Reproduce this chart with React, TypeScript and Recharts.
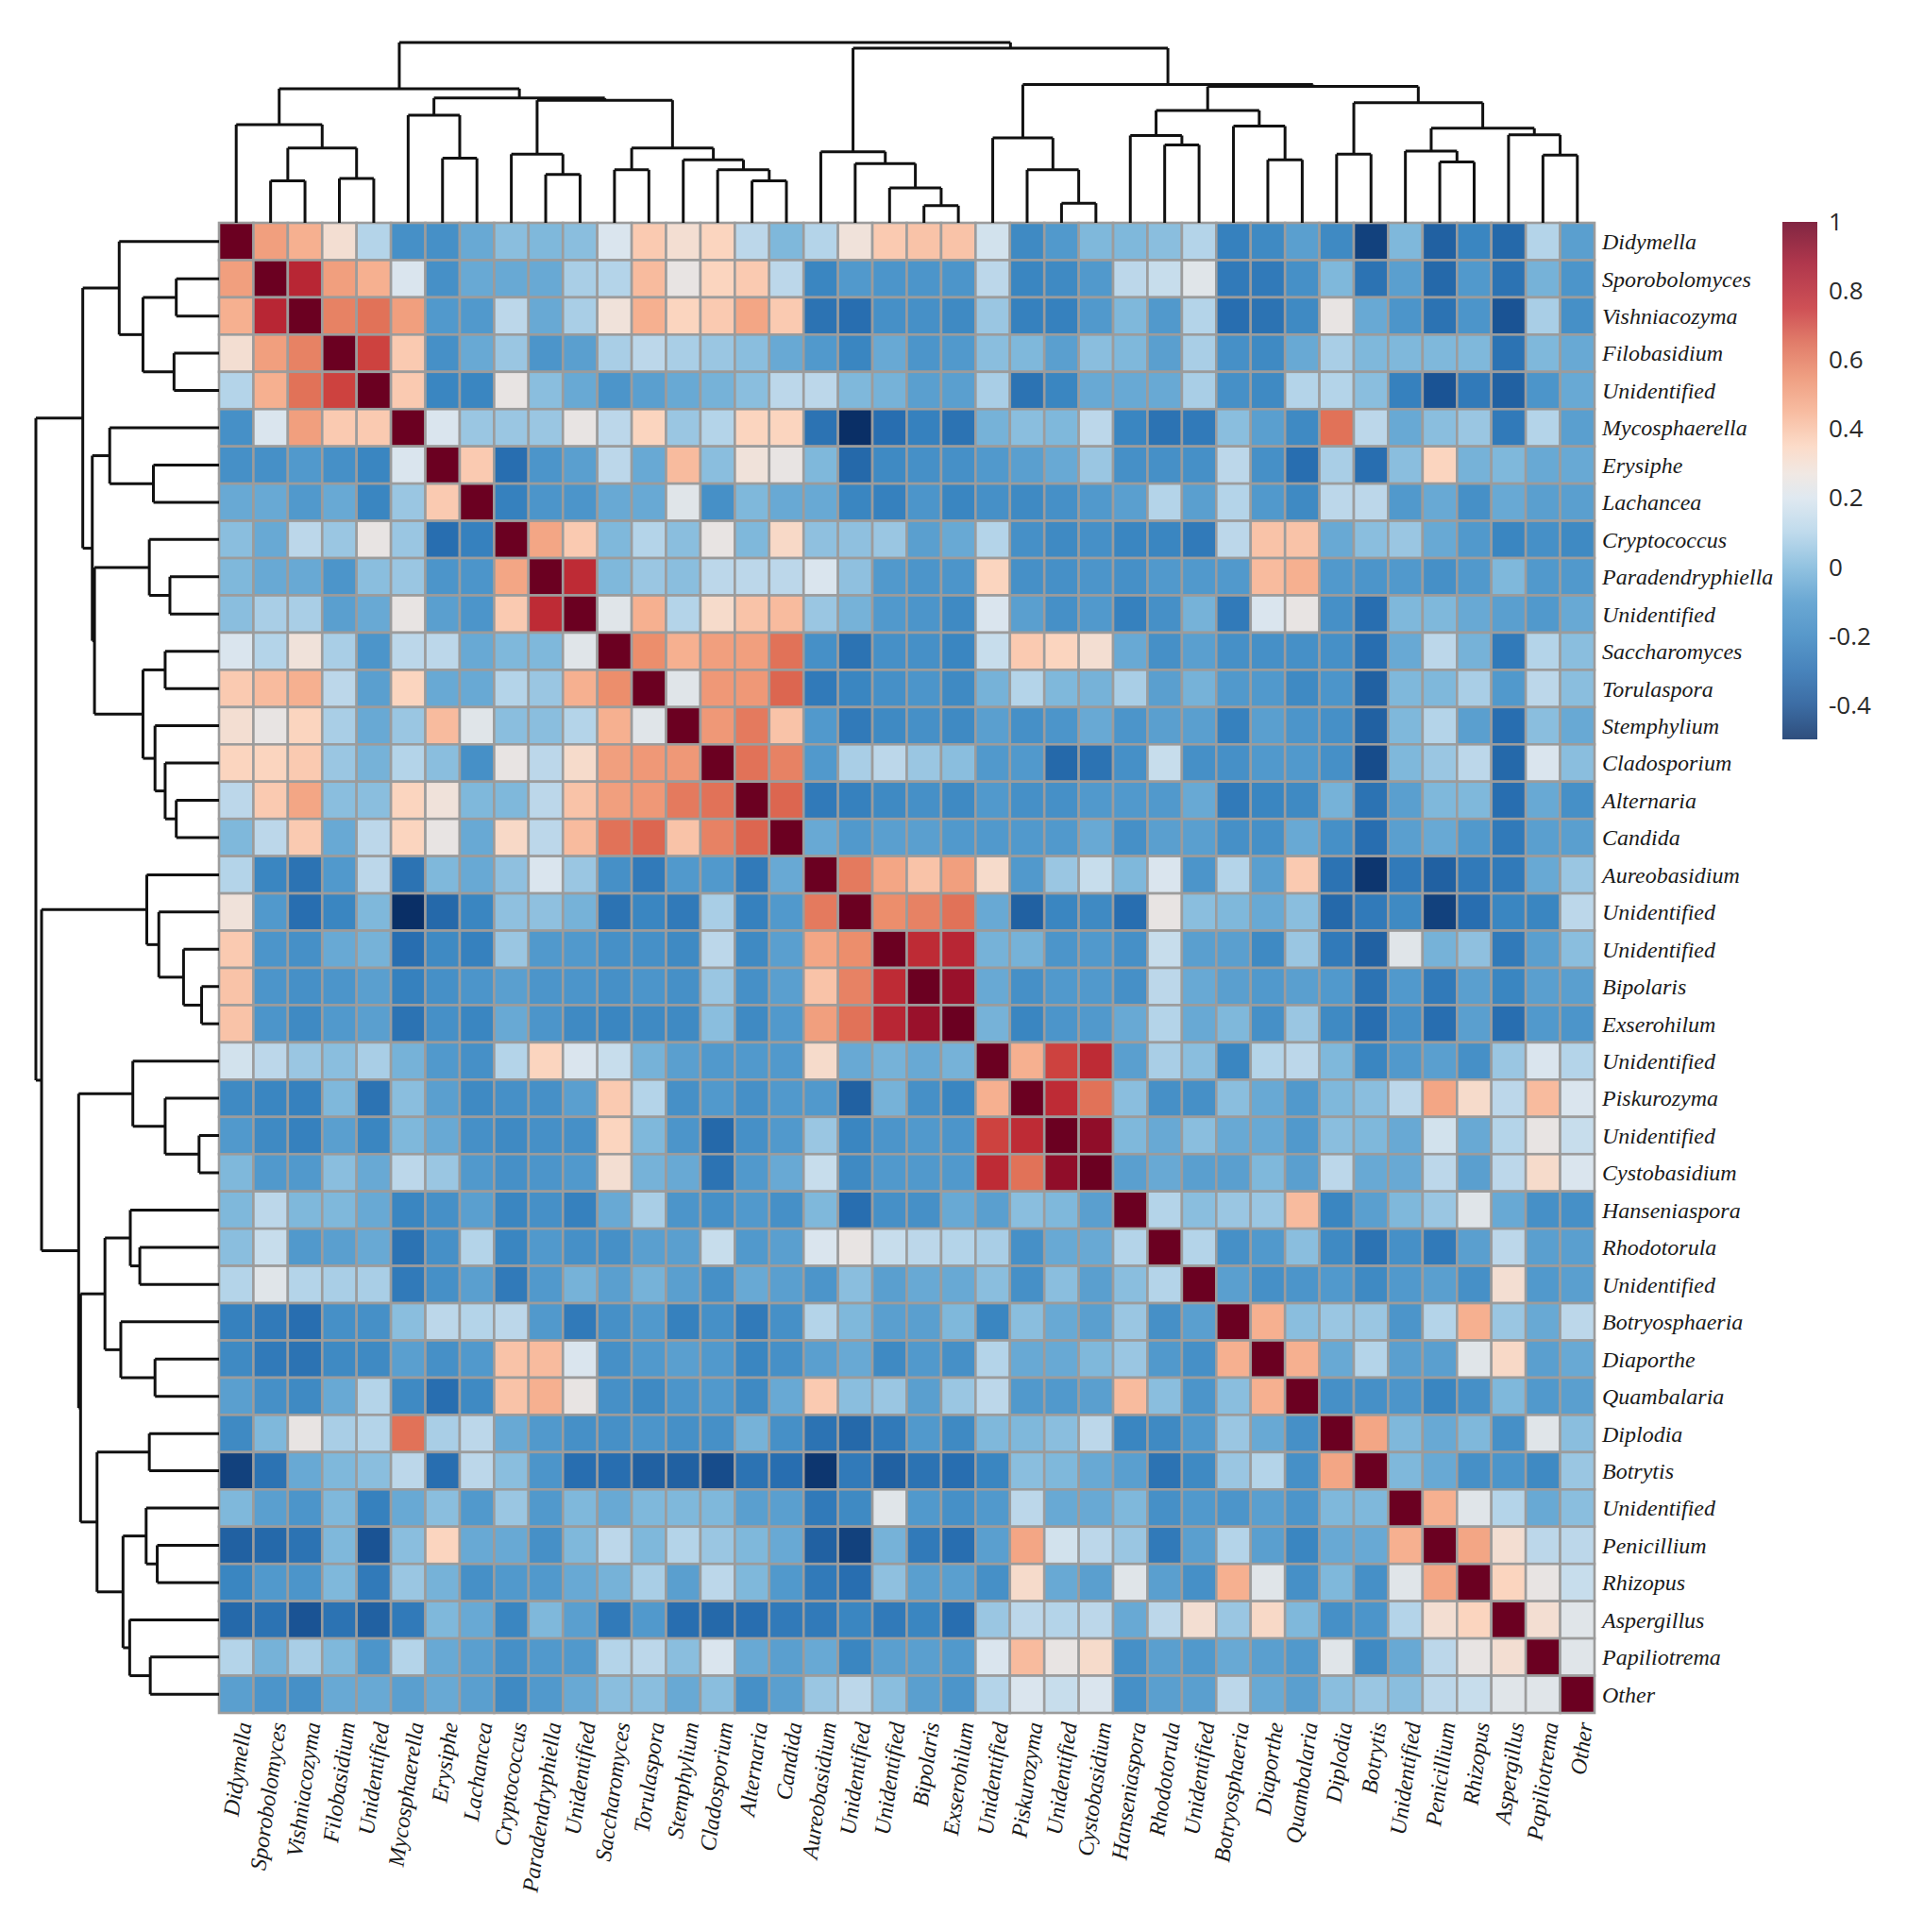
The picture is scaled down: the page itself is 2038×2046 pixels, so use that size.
import { ReferenceArea, ReferenceLine, Scatter, ScatterChart, XAxis, YAxis } from "recharts";

// taxa in clustered order (rows top->bottom, columns left->right)
const taxa = [
  "Didymella", "Sporobolomyces", "Vishniacozyma", "Filobasidium", "Unidentified",
  "Mycosphaerella", "Erysiphe", "Lachancea", "Cryptococcus", "Paradendryphiella",
  "Unidentified", "Saccharomyces", "Torulaspora", "Stemphylium", "Cladosporium",
  "Alternaria", "Candida", "Aureobasidium", "Unidentified", "Unidentified",
  "Bipolaris", "Exserohilum", "Unidentified", "Piskurozyma", "Unidentified",
  "Cystobasidium", "Hanseniaspora", "Rhodotorula", "Unidentified", "Botryosphaeria",
  "Diaporthe", "Quambalaria", "Diplodia", "Botrytis", "Unidentified",
  "Penicillium", "Rhizopus", "Aspergillus", "Papiliotrema", "Other",
];

// lower triangle of the correlation matrix, row i holds columns 0..i-1
const lowerRows: number[][] = [
  [],
  [0.5],
  [0.45, 0.8],
  [0.3, 0.5, 0.58],
  [0.1, 0.45, 0.62, 0.72],
  [-0.15, 0.2, 0.5, 0.38, 0.38],
  [-0.15, -0.15, -0.1, -0.15, -0.2, 0.2],
  [-0.05, -0.05, -0.1, -0.05, -0.2, 0.05, 0.38],
  [0.02, -0.05, 0.12, 0.05, 0.25, 0.05, -0.3, -0.22],
  [0, -0.05, -0.05, -0.12, 0.02, 0.05, -0.12, -0.12, 0.48],
  [0.02, 0.08, 0.08, -0.08, -0.05, 0.25, -0.08, -0.12, 0.38, 0.78],
  [0.2, 0.1, 0.28, 0.08, -0.12, 0.12, 0.12, -0.05, 0, 0, 0.22],
  [0.38, 0.42, 0.45, 0.12, -0.08, 0.35, -0.05, -0.05, 0.1, 0.05, 0.45, 0.55],
  [0.3, 0.25, 0.35, 0.08, -0.05, 0.05, 0.42, 0.22, 0.02, 0.02, 0.1, 0.45, 0.22],
  [0.35, 0.35, 0.38, 0.05, -0.02, 0.1, 0.02, -0.15, 0.25, 0.12, 0.32, 0.5, 0.52, 0.52],
  [0.12, 0.38, 0.48, 0.02, 0.02, 0.35, 0.28, 0, 0, 0.12, 0.4, 0.5, 0.52, 0.6, 0.62],
  [0, 0.12, 0.38, -0.05, 0.12, 0.35, 0.25, -0.05, 0.33, 0.12, 0.42, 0.62, 0.65, 0.4, 0.58, 0.65],
  [0.1, -0.2, -0.28, -0.1, 0.12, -0.28, 0, -0.05, 0.03, 0.2, 0.05, -0.15, -0.25, -0.1, -0.1, -0.25, -0.05],
  [0.28, -0.1, -0.3, -0.2, 0, -0.5, -0.32, -0.2, 0.03, 0.03, -0.02, -0.28, -0.2, -0.25, 0.08, -0.22, -0.1, 0.6],
  [0.38, -0.12, -0.15, -0.05, -0.02, -0.3, -0.18, -0.22, 0.05, -0.1, -0.1, -0.15, -0.15, -0.18, 0.12, -0.18, -0.08, 0.48, 0.55],
  [0.4, -0.12, -0.15, -0.12, -0.08, -0.22, -0.15, -0.12, -0.08, -0.12, -0.12, -0.15, -0.12, -0.15, 0.05, -0.15, -0.08, 0.4, 0.58, 0.78],
  [0.4, -0.12, -0.18, -0.1, -0.08, -0.28, -0.15, -0.2, -0.05, -0.12, -0.18, -0.2, -0.18, -0.18, 0.02, -0.18, -0.1, 0.5, 0.62, 0.8, 0.9],
  [0.18, 0.12, 0.05, 0.02, 0.08, -0.02, -0.1, -0.15, 0.1, 0.35, 0.2, 0.15, -0.02, -0.08, -0.1, -0.1, -0.1, 0.32, -0.05, -0.02, -0.05, -0.02],
  [-0.18, -0.2, -0.22, 0, -0.28, 0.02, -0.08, -0.18, -0.15, -0.15, -0.08, 0.38, 0.1, -0.15, -0.1, -0.15, -0.1, -0.1, -0.35, -0.02, -0.15, -0.2, 0.45],
  [-0.1, -0.18, -0.22, -0.08, -0.2, 0, -0.05, -0.15, -0.18, -0.15, -0.15, 0.35, 0, -0.12, -0.32, -0.15, -0.1, 0.05, -0.2, -0.12, -0.1, -0.12, 0.72, 0.78],
  [0, -0.1, -0.1, 0.02, -0.05, 0.12, 0.05, -0.1, -0.15, -0.12, -0.1, 0.3, -0.02, -0.05, -0.28, -0.1, -0.05, 0.15, -0.18, -0.1, -0.1, -0.1, 0.78, 0.62, 0.92],
  [0, 0.12, 0, 0, -0.05, -0.2, -0.15, -0.08, -0.2, -0.15, -0.22, -0.05, 0.08, -0.12, -0.15, -0.1, -0.15, 0, -0.3, -0.15, -0.15, -0.05, -0.08, 0.02, 0, -0.08],
  [0.02, 0.15, -0.1, -0.08, -0.05, -0.28, -0.15, 0.1, -0.2, -0.1, -0.15, -0.15, -0.08, -0.08, 0.15, -0.1, -0.08, 0.2, 0.25, 0.15, 0.12, 0.1, 0.08, -0.15, -0.05, -0.05, 0.1],
  [0.1, 0.22, 0.1, 0.08, 0.08, -0.25, -0.15, -0.08, -0.25, -0.1, -0.02, -0.08, -0.02, -0.08, -0.15, -0.05, -0.08, -0.12, 0.02, -0.08, -0.05, -0.05, 0.02, -0.15, 0.02, -0.08, 0.02, 0.1],
  [-0.22, -0.25, -0.3, -0.15, -0.15, 0.02, 0.12, 0.1, 0.12, -0.1, -0.25, -0.15, -0.1, -0.22, -0.15, -0.25, -0.15, 0.1, 0, -0.08, -0.08, 0, -0.2, 0.02, -0.05, -0.08, 0.05, -0.15, -0.08],
  [-0.18, -0.25, -0.28, -0.18, -0.18, -0.08, -0.15, -0.1, 0.4, 0.42, 0.2, -0.15, -0.1, -0.08, -0.1, -0.2, -0.15, -0.08, -0.05, -0.18, -0.1, -0.15, 0.1, -0.05, -0.05, 0, 0.05, -0.1, -0.15, 0.45],
  [-0.08, -0.15, -0.18, -0.05, 0.1, -0.18, -0.3, -0.18, 0.4, 0.45, 0.25, -0.15, -0.18, -0.12, -0.1, -0.18, -0.05, 0.38, 0.02, 0.05, -0.08, 0.05, 0.12, -0.1, -0.1, -0.08, 0.42, 0.02, -0.12, 0.02, 0.45],
  [-0.18, 0, 0.25, 0.08, 0.1, 0.62, 0.08, 0.12, -0.05, -0.1, -0.15, -0.15, -0.12, -0.15, -0.15, -0.02, -0.15, -0.28, -0.32, -0.25, -0.1, -0.18, 0, 0, 0.02, 0.12, -0.2, -0.18, -0.1, 0.05, -0.05, -0.15],
  [-0.45, -0.28, -0.05, 0, 0.02, 0.12, -0.3, 0.12, 0.02, -0.12, -0.3, -0.3, -0.35, -0.35, -0.42, -0.28, -0.3, -0.48, -0.25, -0.35, -0.28, -0.3, -0.2, 0.02, 0, -0.05, -0.08, -0.28, -0.18, 0.05, 0.1, -0.15, 0.48],
  [0, -0.08, -0.12, 0, -0.22, -0.05, 0.02, -0.1, 0.05, -0.1, 0, -0.05, 0, 0, 0, -0.08, -0.08, -0.25, -0.18, 0.22, -0.1, -0.15, -0.1, 0.12, -0.05, -0.05, 0, -0.15, -0.1, -0.12, -0.08, -0.12, 0, 0],
  [-0.35, -0.32, -0.28, 0, -0.4, 0.02, 0.35, -0.05, -0.05, -0.15, 0, 0.12, 0, 0.1, 0.05, 0, -0.05, -0.35, -0.45, -0.02, -0.25, -0.3, -0.08, 0.48, 0.18, 0.12, 0.05, -0.25, -0.08, 0.1, -0.08, -0.2, -0.05, -0.05, 0.45],
  [-0.2, -0.1, -0.12, 0, -0.25, 0.05, -0.02, -0.15, -0.1, -0.1, -0.05, -0.02, 0.08, -0.08, 0.12, 0, -0.1, -0.25, -0.3, 0.03, -0.08, -0.08, -0.15, 0.32, -0.05, -0.08, 0.22, -0.08, -0.15, 0.45, 0.22, -0.15, 0, -0.15, 0.22, 0.48],
  [-0.32, -0.28, -0.4, -0.28, -0.35, -0.25, 0, -0.05, -0.2, 0, -0.08, -0.25, -0.1, -0.3, -0.32, -0.3, -0.25, -0.25, -0.2, -0.25, -0.2, -0.3, 0.05, 0.12, 0.1, 0.12, -0.05, 0.12, 0.3, 0.05, 0.33, 0, -0.15, -0.12, 0.1, 0.3, 0.35],
  [0.1, -0.02, 0.08, 0, -0.12, 0.1, -0.05, -0.08, -0.15, -0.1, -0.1, 0.1, 0.12, 0.02, 0.2, -0.05, -0.08, -0.05, -0.2, -0.08, -0.08, -0.1, 0.2, 0.42, 0.25, 0.32, -0.15, -0.08, -0.1, -0.05, -0.08, -0.1, 0.22, -0.18, -0.05, 0.12, 0.25, 0.3],
  [-0.08, -0.12, -0.15, -0.05, -0.05, -0.08, -0.05, -0.08, -0.18, -0.1, -0.05, 0.02, 0.02, -0.05, 0.02, -0.15, -0.08, 0.05, 0.12, 0.02, -0.08, -0.12, 0.1, 0.2, 0.15, 0.2, -0.15, -0.08, -0.08, 0.12, -0.05, -0.08, 0.02, 0.05, 0.02, 0.12, 0.15, 0.22, 0.22],
];

// hierarchical clustering: [child a, child b, merge height]; ids >= 40 are earlier merges
const merges: [number, number, number][] = [
  [1, 2, 135], [3, 4, 142], [40, 41, 240], [0, 42, 315],
  [6, 7, 207], [5, 44, 345], [9, 10, 155], [8, 46, 220],
  [11, 12, 170], [15, 16, 135], [14, 49, 170], [13, 50, 202],
  [48, 51, 240], [47, 52, 393], [45, 53, 400], [43, 54, 430],
  [20, 21, 55], [19, 56, 112], [18, 57, 190], [17, 58, 228],
  [24, 25, 63], [23, 60, 170], [22, 61, 272], [27, 28, 250],
  [26, 63, 280], [30, 31, 202], [29, 65, 310], [64, 66, 360],
  [32, 33, 220], [35, 36, 195], [34, 69, 230], [38, 39, 217],
  [37, 71, 282], [70, 72, 303], [68, 73, 385], [67, 74, 437],
  [62, 75, 443], [59, 76, 560], [55, 77, 578],
];
const treeHeight = 578;

const colourStops: [number, string][] = [
  [-0.5, "#0a2f66"], [-0.4, "#1a5394"], [-0.3, "#286eb0"], [-0.2, "#3a86c1"],
  [-0.1, "#5199cc"], [0, "#7fb8db"], [0.1, "#b4d4e9"], [0.2, "#dae5ee"],
  [0.27, "#eee4de"], [0.35, "#fbd5bf"], [0.45, "#f6b090"], [0.55, "#ec8e6c"],
  [0.65, "#dc6650"], [0.75, "#c63238"], [0.88, "#a2142d"], [1, "#6b0021"],
];
const colourbarTicks = [1, 0.8, 0.6, 0.4, 0.2, 0, -0.2, -0.4];

const PLOT_LEFT = 232;
const PLOT_TOP = 236;
const PLOT_W = 1457;
const PLOT_H = 1578;
const CELL_W = PLOT_W / taxa.length;
const CELL_H = PLOT_H / taxa.length;
const labelFont = "'Liberation Serif', 'Times New Roman', serif";

const hex = (c: string) => [1, 3, 5].map((i) => parseInt(c.slice(i, i + 2), 16));

function colourFor(v: number) {
  const stops = colourStops;
  if (v <= stops[0][0]) return stops[0][1];
  for (let i = 1; i < stops.length; i++) {
    if (v <= stops[i][0]) {
      const [v0, c0] = stops[i - 1];
      const [v1, c1] = stops[i];
      const t = (v - v0) / (v1 - v0);
      const a = hex(c0);
      const b = hex(c1);
      return `rgb(${a.map((x, k) => Math.round(x + (b[k] - x) * t)).join(",")})`;
    }
  }
  return stops[stops.length - 1][1];
}

const n = taxa.length;
const cells = [];
for (let r = 0; r < n; r++) {
  for (let c = 0; c < n; c++) {
    const v = r === c ? 1 : c < r ? lowerRows[r][c] : lowerRows[c][r];
    cells.push({ x: c, y: r, v });
  }
}

// leaf position + merge height for each node, then the three strokes of each merge
const nodePos: number[] = taxa.map((_, i) => i);
const nodeH: number[] = taxa.map(() => 0);
const links: { pos: number; h: number }[][] = [];
merges.forEach(([a, b, h], k) => {
  nodePos[n + k] = (nodePos[a] + nodePos[b]) / 2;
  nodeH[n + k] = h;
  links.push(
    [{ pos: nodePos[a], h: nodeH[a] }, { pos: nodePos[a], h }],
    [{ pos: nodePos[a], h }, { pos: nodePos[b], h }],
    [{ pos: nodePos[b], h: nodeH[b] }, { pos: nodePos[b], h }],
  );
});
const leaves = taxa.map((_, i) => ({ pos: i, h: 0 }));
const indexTicks = taxa.map((_, i) => i);

const Cell = (props: any) => {
  const { cx, cy, payload } = props;
  return (
    <rect
      x={cx - CELL_W / 2}
      y={cy - CELL_H / 2}
      width={CELL_W}
      height={CELL_H}
      fill={colourFor(payload.v)}
      stroke="#9c9c9c"
      strokeWidth={2.6}
    />
  );
};

const ColumnTick = (props: any) => {
  const { x, y, payload } = props;
  return (
    <text
      transform={`translate(${x + 8}, ${y + 8}) rotate(-82)`}
      textAnchor="end"
      dy="0.35em"
      fontSize={24}
      fontStyle="italic"
      fontFamily={labelFont}
      fill="#1a1a1a"
    >
      {taxa[payload.value]}
    </text>
  );
};

const RowTick = (props: any) => {
  const { x, y, payload } = props;
  return (
    <text x={x + 6} y={y} dy="0.35em" fontSize={24} fontStyle="italic" fontFamily={labelFont} fill="#1a1a1a">
      {taxa[payload.value]}
    </text>
  );
};

const box = (left: number, top: number): React.CSSProperties => ({ position: "absolute", left, top });

export default function App() {
  return (
    <div style={{ position: "absolute", left: 0, top: 0, width: 2038, height: 2046, background: "#fff" }}>
      <div style={box(0, 0)}>
        <ScatterChart width={2038} height={2046} margin={{ top: PLOT_TOP, left: PLOT_LEFT, right: 49, bottom: 32 }}>
          <XAxis
            dataKey="x"
            type="number"
            domain={[-0.5, n - 0.5]}
            ticks={indexTicks}
            interval={0}
            height={200}
            tickSize={0}
            tickLine={false}
            axisLine={false}
            tick={<ColumnTick />}
          />
          <YAxis
            dataKey="y"
            type="number"
            domain={[-0.5, n - 0.5]}
            reversed
            orientation="right"
            ticks={indexTicks}
            interval={0}
            width={300}
            tickSize={0}
            tickLine={false}
            axisLine={false}
            tick={<RowTick />}
          />
          <Scatter data={cells} shape={<Cell />} isAnimationActive={false} />
        </ScatterChart>
      </div>

      <div style={box(0, 0)}>
        <ScatterChart width={2038} height={PLOT_TOP} margin={{ top: 45, left: PLOT_LEFT, right: 349, bottom: 0 }}>
          <XAxis dataKey="pos" type="number" domain={[-0.5, n - 0.5]} hide />
          <YAxis dataKey="h" type="number" domain={[0, treeHeight]} hide />
          <Scatter data={leaves} shape={() => <g />} isAnimationActive={false} />
          {links.map((seg, i) => (
            <ReferenceLine
              key={i}
              segment={seg.map((p) => ({ x: p.pos, y: p.h }))}
              stroke="#111"
              strokeWidth={3}
              ifOverflow="visible"
            />
          ))}
        </ScatterChart>
      </div>

      <div style={box(0, 0)}>
        <ScatterChart width={PLOT_LEFT} height={2046} margin={{ top: PLOT_TOP, left: 38, right: 0, bottom: 232 }}>
          <XAxis dataKey="h" type="number" domain={[0, treeHeight]} reversed hide />
          <YAxis dataKey="pos" type="number" domain={[-0.5, n - 0.5]} reversed hide />
          <Scatter data={leaves} shape={() => <g />} isAnimationActive={false} />
          {links.map((seg, i) => (
            <ReferenceLine
              key={i}
              segment={seg.map((p) => ({ x: p.h, y: p.pos }))}
              stroke="#111"
              strokeWidth={3}
              ifOverflow="visible"
            />
          ))}
        </ScatterChart>
      </div>

      <div style={box(1888, 200)}>
        <ScatterChart width={150} height={620} margin={{ top: 35, left: 0, right: 0, bottom: 37 }}>
          <defs>
            <linearGradient id="cbar" x1="0" y1="0" x2="0" y2="1">
              {colourStops
                .slice()
                .reverse()
                .map(([v, c]) => (
                  <stop key={v} offset={`${((1 - v) / 1.5) * 100}%`} stopColor={c} />
                ))}
            </linearGradient>
          </defs>
          <XAxis dataKey="x" type="number" domain={[0, 1]} hide />
          <YAxis
            dataKey="y"
            type="number"
            domain={[-0.5, 1]}
            orientation="right"
            ticks={colourbarTicks}
            interval={0}
            width={113}
            tickSize={0}
            tickMargin={12}
            tickLine={false}
            axisLine={false}
            tick={{ fontSize: 26, fill: "#2a2a2a", fontFamily: "'Open Sans', sans-serif", textAnchor: "start" }}
          />
          <Scatter data={[{ x: 0.5, y: 0.25 }]} shape={() => <g />} isAnimationActive={false} />
          <ReferenceArea x1={0} x2={1} y1={-0.5} y2={1} fill="url(#cbar)" fillOpacity={0.85} strokeOpacity={0} ifOverflow="visible" />
        </ScatterChart>
      </div>
    </div>
  );
}
